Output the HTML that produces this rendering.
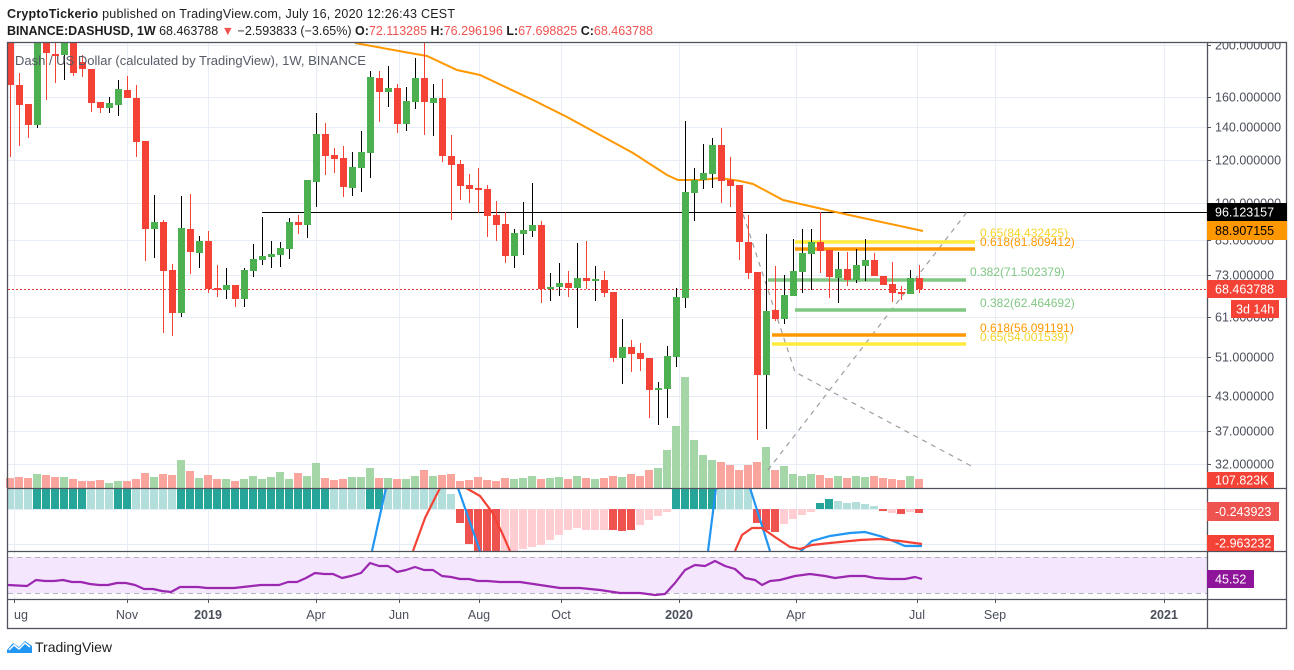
<!DOCTYPE html>
<html><head><meta charset="utf-8"><style>
body{margin:0;width:1294px;height:665px;background:#fff;overflow:hidden;font-family:"Liberation Sans",sans-serif;}
svg text{font-family:"Liberation Sans",sans-serif;}
</style></head><body>
<svg id="s" width="1294" height="665" xmlns="http://www.w3.org/2000/svg">
<defs>
<clipPath id="cp"><rect x="8" y="43" width="1199" height="445"/></clipPath>
<clipPath id="cm"><rect x="8" y="489" width="1199" height="62"/></clipPath>
<clipPath id="ca"><rect x="1208" y="43" width="86" height="445"/></clipPath>
</defs>
<text x="7" y="18" font-size="12.5" fill="#1e1e1e" textLength="448"><tspan font-weight="bold">CryptoTickerio</tspan> published on TradingView.com, July 16, 2020 12:26:43 CEST</text>
<text x="7" y="35" font-size="12.5" fill="#1e1e1e"><tspan font-weight="bold">BINANCE:DASHUSD, 1W</tspan> 68.463788 <tspan fill="#ef5350">▼</tspan> −2.593833 (−3.65%) <tspan font-weight="bold">O:</tspan><tspan fill="#ef5350">72.113285</tspan> <tspan font-weight="bold">H:</tspan><tspan fill="#ef5350">76.296196</tspan> <tspan font-weight="bold">L:</tspan><tspan fill="#ef5350">67.698825</tspan> <tspan font-weight="bold">C:</tspan><tspan fill="#ef5350">68.463788</tspan></text>
<g id="grid" stroke="#e6edf4" stroke-width="1"></g>
<rect x="8" y="557" width="1199" height="36" fill="#f3e6fd"/>
<line x1="8" y1="557.5" x2="1207" y2="557.5" stroke="#b9b0c4" stroke-dasharray="5,4"/>
<line x1="8" y1="593.5" x2="1207" y2="593.5" stroke="#b9b0c4" stroke-dasharray="5,4"/>
<g id="vol"></g>
<g id="macd" clip-path="url(#cm)"></g>
<g id="price" clip-path="url(#cp)"></g>
<g id="rsi"></g>
<g id="axis" font-size="12.5" fill="#4a4f5a"></g>
<g stroke="#50535e" stroke-width="1.3" fill="none">
<rect x="7.5" y="42.5" width="1279" height="586"/>
<line x1="1207.5" y1="42" x2="1207.5" y2="629"/>
<line x1="7" y1="488.5" x2="1287" y2="488.5"/>
<line x1="7" y1="551.5" x2="1287" y2="551.5"/>
<line x1="7" y1="599.5" x2="1287" y2="599.5"/>
</g>
<g id="tags" font-size="12.5"></g>
<text x="15" y="65" font-size="13" fill="#555b66">Dash / US Dollar (calculated by TradingView), 1W, BINANCE</text>
<g transform="translate(7,639)"><path d="M0 11 L6 4 L12 8 L18 2 L25 7 L25 14 L0 14Z" fill="#2196f3"/><path d="M2 11 L7 6 L12 10 L18 4 L23 8" stroke="#fff" stroke-width="1.5" fill="none"/></g>
<text x="35" y="652" font-size="14" fill="#1e1e1e">TradingView</text>
</svg>
<script>
const NS="http://www.w3.org/2000/svg";
function el(p,t,a,txt){const e=document.createElementNS(NS,t);for(const k in a)e.setAttribute(k,a[k]);if(txt!==undefined)e.textContent=txt;document.getElementById(p).appendChild(e);return e;}
const X=i=>10+9*i;
[45,97,127,160,203,240,275,317,357,396,431,464,509,544,584].forEach(y=>el('grid','line',{x1:8,x2:1207,y1:y+.5,y2:y+.5}));
[14,127,208,316,399,479,561,679,796,917,995,1164].forEach(x=>el('grid','line',{x1:x+.5,x2:x+.5,y1:43,y2:599}));
const C=[[0,'r',30,85,30,157],[1,'r',85,105,73,146],[2,'r',104,125,104,138],[3,'g',30,125,30,128],[4,'r',30,53,30,100],[5,'r',54,56,40,83],[6,'g',30,55,30,80],[7,'r',30,73,30,76],[8,'r',62,69,55,77],[9,'r',69,103,69,112],[10,'r',102,108,102,113],[11,'g',103,108,97,113],[12,'g',89,105,80,116],[13,'r',90,98,76,98],[14,'r',98,142,85,157],[15,'r',141,229,141,261],[16,'g',222,229,195,258],[17,'r',222,271,220,333],[18,'r',270,313,264,336],[19,'g',228,313,196,317],[20,'r',229,252,194,274],[21,'g',241,253,236,268],[22,'r',241,289,231,293],[23,'r',288,290,265,297],[24,'g',285,290,268,299],[25,'r',285,299,285,307],[26,'g',270,299,268,307],[27,'g',259,271,244,277],[28,'g',256,260,217,265],[29,'g',254,257,241,268],[30,'g',248,255,242,267],[31,'g',222,249,218,259],[32,'r',222,225,215,234],[33,'g',180,225,180,238],[34,'g',134,182,113,207],[35,'r',134,156,123,175],[36,'r',155,159,148,173],[37,'r',158,187,146,197],[38,'g',167,188,152,196],[39,'g',152,168,131,192],[40,'g',77,153,71,178],[41,'r',78,92,71,122],[42,'g',88,92,66,107],[43,'r',88,124,84,133],[44,'g',101,124,87,131],[45,'g',78,102,58,109],[46,'r',78,102,43,135],[47,'g',98,103,84,136],[48,'r',98,156,79,162],[49,'r',156,165,135,220],[50,'r',164,186,160,200],[51,'r',185,189,174,203],[52,'r',188,190,168,213],[53,'r',189,216,185,237],[54,'r',215,225,201,241],[55,'r',224,256,212,263],[56,'g',233,256,229,268],[57,'g',230,234,202,255],[58,'g',225,231,183,237],[59,'r',225,289,221,303],[60,'g',287,289,273,301],[61,'g',283,287,263,296],[62,'r',283,288,271,297],[63,'g',278,288,243,328],[64,'r',278,281,241,289],[65,'g',279,281,266,301],[66,'r',280,293,271,297],[67,'r',292,358,292,362],[68,'g',347,358,319,384],[69,'r',347,354,340,372],[70,'r',353,359,343,371],[71,'r',358,390,358,418],[72,'g',388,390,382,425],[73,'g',356,389,346,418],[74,'g',297,357,288,367],[75,'g',192,298,121,308],[76,'g',180,193,168,221],[77,'g',173,180,144,189],[78,'g',145,174,138,188],[79,'r',145,181,128,203],[80,'r',180,186,157,207],[81,'r',185,242,185,260],[82,'r',242,273,215,279],[83,'r',272,375,272,440],[84,'g',311,375,234,429],[85,'r',310,319,266,321],[86,'g',295,319,275,324],[87,'g',271,296,239,296],[88,'g',253,272,229,293],[89,'g',242,254,229,290],[90,'r',242,251,212,273],[91,'r',250,277,250,298],[92,'g',269,278,252,303],[93,'r',269,280,252,286],[94,'g',265,280,249,283],[95,'g',260,266,239,281],[96,'r',260,276,253,276],[97,'r',276,285,276,285],[98,'r',284,293,262,302],[99,'r',292,294,286,300],[100,'g',278,294,270,294],[101,'r',278,289,265,293]];
el('price','line',{x1:262,x2:1207,y1:212.5,y2:212.5,stroke:'#000','stroke-width':1});
el('price','line',{x1:8,x2:1207,y1:289.5,y2:289.5,stroke:'#e53935','stroke-dasharray':'2,2'});
el('price','polyline',{points:'740,205 795,372 975,468',fill:'none',stroke:'#9e9e9e','stroke-dasharray':'5,5','stroke-width':1.2});
el('price','line',{x1:768,y1:470,x2:967,y2:212,stroke:'#9e9e9e','stroke-dasharray':'5,5','stroke-width':1.2});
const F=[[795,975,242,'#ffeb3b'],[795,975,249,'#ff9800'],[768,966,280,'#81c784'],[795,966,310,'#81c784'],[772,966,335,'#ff9800'],[772,966,344,'#ffeb3b']];
F.forEach(f=>el('price','line',{x1:f[0],x2:f[1],y1:f[2],y2:f[2],stroke:f[3],'stroke-width':3.5}));
el('price','polyline',{points:'355,43 410,53 427,56 457,70 480,75 533,100 567,117 600,135 633,153 667,175 678,180 700,180 720,178 740,181 753,184 783,200 840,213 923,231',fill:'none',stroke:'#ff9800','stroke-width':2});
C.forEach(c=>{const x=X(c[0]);const col=c[1]=='g'?'#4caf50':'#f44336';const wc=c[1]=='g'?'#000':'#f44336';
 el('price','line',{x1:x+.5,x2:x+.5,y1:c[4],y2:c[5],stroke:wc,'stroke-width':1});
 el('price','rect',{x:x-3,y:c[2],width:7,height:Math.max(1.5,c[3]-c[2]),fill:col});});
[[980,237,'0.65(84.432425)','#f5d328'],[980,246,'0.618(81.809412)','#ff9800'],[970,276,'0.382(71.502379)','#81c784'],[980,307,'0.382(62.464692)','#81c784'],[980,332,'0.618(56.091191)','#ff9800'],[980,341,'0.65(54.001539)','#f5d328']].forEach(l=>el('price','text',{x:l[0],y:l[1],'font-size':12,fill:l[3]},l[2]));
const VH=[10,11,10,14,13,11,11,9,7,7,8,5,7,7,9,15,11,14,13,28,17,10,13,9,9,7,9,12,9,11,16,9,15,12,25,10,8,9,11,11,20,10,10,9,9,12,18,12,13,14,7,8,11,8,7,10,9,10,12,9,10,11,9,12,10,9,10,12,11,14,12,18,20,38,62,111,48,33,28,26,23,18,23,26,41,18,22,14,12,14,13,10,12,10,12,11,12,10,9,8,12,9];
C.forEach((c,k)=>{const h=VH[k]||10;el('vol','rect',{x:X(c[0])-4,y:488-h,width:8,height:h,fill:c[1]=='g'?'#a5d6a7':'#f9a59d'});});
for(let i=0;i<102;i++){let v,col;
 if(i<=2){v=25;col='l'}else if(i<=8){v=25;col='d'}else if(i<=11){v=25;col='l'}else if(i<=13){v=25;col='d'}else if(i<=18){v=25;col='l'}else if(i<=35){v=25;col='d'}else if(i<=39){v=25;col='l'}else if(i<=41){v=25;col='d'}else if(i<=48){v=25;col='l'}else if(i==49){v=15;col='l'}
 else if(i==50){v=-14;col='r'}else if(i==51){v=-35;col='r'}else if(i<=54){v=-45;col='r'}else if(i<=66){v=-[44,42,40,38,36,31,26,21,19,21,21,21][i-55];col='p'}
 else if(i<=69){v=-[21,22,21][i-67];col='r'}else if(i<=73){v=-[16,11,7,3][i-70];col='p'}else if(i<=78){v=25;col='d'}else if(i<=82){v=25;col='l'}
 else if(i<=85){v=-[14,21,23][i-83];col='r'}else if(i<=89){v=-[15,10,6,3][i-86];col='p'}else if(i<=90){v=6;col='d'}else if(i<=91){v=10;col='d'}else if(i<=96){v=[8,6,7,5,3][i-92];col='l'}
 else {v=-[2,4,5,3,4][i-97];col=i%2?'r':'p'}
 const c={d:'#26a69a',l:'#b2dfdb',r:'#ef5350',p:'#ffcdd2'}[col];
 const y=v>0?509-v:509;el('macd','rect',{x:X(i)-4,y:y,width:8,height:Math.abs(v),fill:c});}
el('macd','polyline',{points:'372,551 386,488',stroke:'#2196f3','stroke-width':2.2,fill:'none'});
el('macd','polyline',{points:'458,488 480,551',stroke:'#2196f3','stroke-width':2.2,fill:'none'});
el('macd','polyline',{points:'413,551 425,518 440,488',stroke:'#f44336','stroke-width':2.2,fill:'none'});
el('macd','polyline',{points:'466,488 480,496 492,512 503,535 510,551',stroke:'#f44336','stroke-width':2.2,fill:'none'});
el('macd','polyline',{points:'708,551 716,488',stroke:'#2196f3','stroke-width':2.2,fill:'none'});
el('macd','polyline',{points:'750,488 770,551',stroke:'#2196f3','stroke-width':2.2,fill:'none'});
el('macd','polyline',{points:'800,552 812,541 830,536 850,533 865,532 880,536 893,541 905,546 922,546',stroke:'#2196f3','stroke-width':2.2,fill:'none'});
el('macd','polyline',{points:'735,551 742,535 752,528 762,528 775,537 790,547 800,549 812,545 830,543 860,540 880,539 900,541 922,544',stroke:'#f44336','stroke-width':2.2,fill:'none'});
el('rsi','polyline',{points:'8,585 27,586 36,580 45,581 54,581 63,580 72,582 81,582 90,584 99,585 108,585 117,583 126,583 135,585 144,589 153,589 162,591 171,592 180,587 189,587 198,587 207,588 216,588 225,588 234,588 243,587 252,586 261,585 270,585 279,585 288,582 297,582 306,578 315,573 324,574 333,574 342,578 351,576 361,573 370,563 379,566 388,566 397,572 406,570 415,567 424,570 433,570 442,576 451,577 460,579 469,579 478,581 487,581 500,582 520,582 540,585 560,588 580,588 600,590 620,593 640,593 655,595 665,594 675,583 685,570 695,565 705,566 715,561 725,566 735,569 745,578 755,580 762,585 770,581 780,580 795,576 810,574 825,576 835,578 850,576 865,576 875,578 890,579 905,579 915,577 922,579',fill:'none',stroke:'#9c27b0','stroke-width':2.2,'stroke-linejoin':'round'});
[[45,'200.000000'],[97,'160.000000'],[127,'140.000000'],[160,'120.000000'],[203,'100.000000'],[240,'85.000000'],[275,'73.000000'],[317,'61.000000'],[357,'51.000000'],[396,'43.000000'],[431,'37.000000'],[464,'32.000000'],[544,'-2.500000']].forEach(t=>{
 el('axis','line',{x1:1207,x2:1211,y1:t[0]+.5,y2:t[0]+.5,stroke:'#50535e'});
 const tx=el('axis','text',{x:1215,y:t[0]+4.5},t[1]); if(t[0]<100) tx.setAttribute('clip-path','url(#ca)');});
[[14,'ug',0],[127,'Nov',0],[208,'2019',1],[316,'Apr',0],[399,'Jun',0],[479,'Aug',0],[561,'Oct',0],[679,'2020',1],[796,'Apr',0],[917,'Jul',0],[995,'Sep',0],[1164,'2021',1]].forEach(t=>{
 el('axis','line',{x1:t[0]+.5,x2:t[0]+.5,y1:599,y2:603,stroke:'#50535e'});
 el('axis','text',{x:t[0],y:619,'text-anchor':t[0]<20?'start':'middle','font-weight':t[2]?'bold':'normal'},t[1]);});
[[203,18,1207,80,'#000','#fff','96.123157'],[221,19,1207,80,'#ff9800','#000','88.907155'],[280,18,1207,80,'#f44336','#fff','68.463788'],[300,18,1231,48,'#f44336','#fff','3d 14h'],[472,16,1207,67,'#f44336','#fff','107.823K'],[502,19,1207,72,'#ef5350','#fff','-0.243923'],[535,16,1207,67,'#f44336','#fff','-2.963232'],[570,18,1207,47,'#8e1599','#fff','45.52']].forEach(t=>{
 el('tags','rect',{x:t[2],y:t[0],width:t[3],height:t[1],fill:t[4]});
 el('tags','text',{x:t[2]+(t[6]=='3d 14h'?5:8),y:t[0]+t[1]/2+4.5,fill:t[5]},t[6]);});
</script>
</body></html>
